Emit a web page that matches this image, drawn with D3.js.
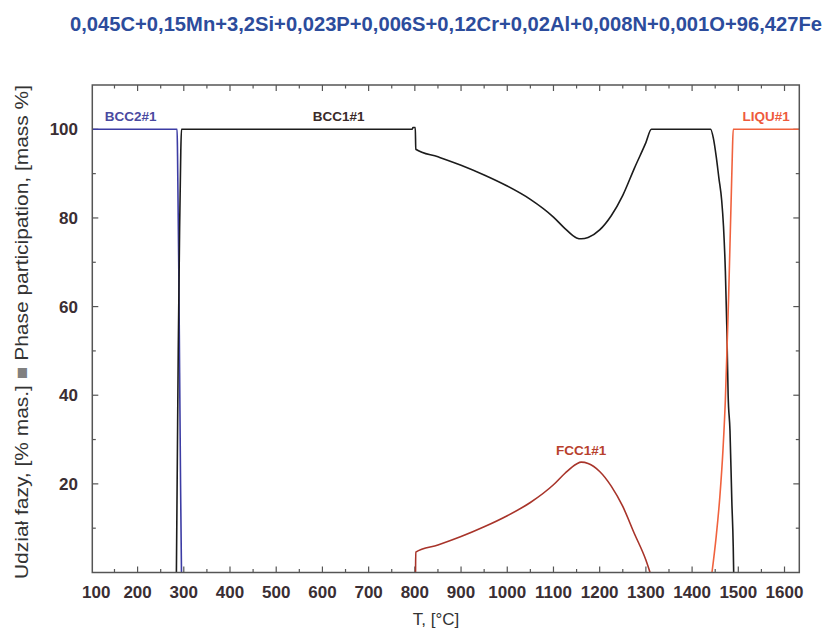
<!DOCTYPE html>
<html><head><meta charset="utf-8">
<script src="https://cdn.jsdelivr.net/npm/d3@7"></script>
<style>html,body{margin:0;padding:0;background:#fff;}svg{display:block;}</style>
</head><body>
<script>
// ---- data ----
const titleText = "0,045C+0,15Mn+3,2Si+0,023P+0,006S+0,12Cr+0,02Al+0,008N+0,001O+96,427Fe";
const xTickLabels = [100,200,300,400,500,600,700,800,900,1000,1100,1200,1300,1400,1500,1600];
const yTickLabels = [20,40,60,80,100];

const bcc2T = [102, 285.5, 286.5, 289, 291, 293, 295];
const bcc2V = [100, 100, 94, 70, 45, 20, 0];

const bcc1T = [284,286,288,291,293.5,295,794,796,801,802,850,900,950,1000,1050,1100,1125,1150,1160,1175,1200,1225,1250,1275,1300,1312,1440,1446,1452,1458,1464,1468,1472,1475,1478,1482,1486,1489,1490];
const bcc1V = [0,25,50,78,95,100,100,100.4,100.4,95.5,93.8,91.9,89.7,87.2,84.2,80.2,77.6,75.5,75.3,75.6,77.3,80.5,85.1,91.2,97,100,100,98,94,89,84,78,68,56,40,32,16,6,0];

const fccT = [801.5,802,850,900,950,1000,1050,1100,1125,1150,1160,1175,1200,1225,1250,1275,1300,1309];
const fccV = [0,4.6,6.2,8.1,10.3,12.8,15.8,19.8,22.4,24.5,24.9,24.6,22.8,19.5,14.9,8.8,2.8,0];

const liqT = [1443,1452,1460,1467,1472,1476,1479,1482,1485,1487,1489,1632];
const liqV = [0,8,17,28,39,52,62,74,86,94,100,100];

const phaseLabels = ["BCC2#1","BCC1#1","FCC1#1","LIQU#1"];

// ---- layout ----
const W = 822, H = 628;
const L = 92.3, R = 799.3, T = 85, B = 572.5;
const svg = d3.select("body").append("svg").attr("width", W).attr("height", H);
svg.append("rect").attr("width", W).attr("height", H).attr("fill", "#fff");

const x = d3.scaleLinear().domain([102, 1632]).range([L, R]);
const y = d3.scaleLinear().domain([0, 110]).range([B, T]);

svg.append("defs").append("clipPath").attr("id","clip")
  .append("rect").attr("x", L).attr("y", T).attr("width", R-L).attr("height", B-T);

// title
svg.append("text").attr("x", 70).attr("y", 31)
  .attr("font-family","'Liberation Sans', Arial, sans-serif").attr("font-weight","bold")
  .attr("font-size", 19.5).attr("fill","#2c4c9c")
  .attr("textLength", 752).attr("lengthAdjust","spacingAndGlyphs")
  .text(titleText);

// ticks (inward on all four sides)
const minorX = d3.range(150, 1650, 100), majorX = d3.range(200, 1700, 100);
const majorY = d3.range(20, 120, 20), minorY = d3.range(10, 120, 20);
const tg = svg.append("g").attr("stroke","#555").attr("stroke-width",1.2);
function xt(vals, len){
  vals.filter(v=>x(v)>L+1 && x(v)<R-1).forEach(v=>{
    tg.append("line").attr("x1",x(v)).attr("x2",x(v)).attr("y1",B).attr("y2",B-len);
    tg.append("line").attr("x1",x(v)).attr("x2",x(v)).attr("y1",T).attr("y2",T+len);
  });
}
function yt(vals, len){
  vals.filter(v=>y(v)>T+1 && y(v)<B-1).forEach(v=>{
    tg.append("line").attr("y1",y(v)).attr("y2",y(v)).attr("x1",L).attr("x2",L+len);
    tg.append("line").attr("y1",y(v)).attr("y2",y(v)).attr("x1",R).attr("x2",R-len);
  });
}
xt(majorX, 6); xt(minorX, 3.5); yt(majorY, 6); yt(minorY, 3.5);

// tick labels
const lblFont = "'Liberation Sans', Arial, sans-serif";
svg.append("g").selectAll("text").data(xTickLabels).join("text")
  .attr("x", d => Math.max(x(d), L + 4))
  .attr("y", 598).attr("text-anchor","middle")
  .attr("font-family", lblFont).attr("font-weight","bold").attr("font-size",17)
  .attr("fill","#3a2e33").text(d => d);
svg.append("g").selectAll("text").data(yTickLabels).join("text")
  .attr("x", 78).attr("y", d => y(d) + 6).attr("text-anchor","end")
  .attr("font-family", lblFont).attr("font-weight","bold").attr("font-size",17)
  .attr("fill","#3a2e33").text(d => d);

// axis titles
svg.append("text").attr("x", 436).attr("y", 625).attr("text-anchor","middle")
  .attr("font-family", lblFont).attr("font-size",17).attr("fill","#333").text("T, [°C]");
const yt_ = svg.append("text").attr("transform","translate(28,332) rotate(-90)")
  .attr("text-anchor","middle").attr("font-family", lblFont).attr("font-size",19)
  .attr("textLength", 494).attr("lengthAdjust","spacingAndGlyphs").attr("fill","#333");
yt_.append("tspan").text("Udział fazy, [% mas.] ");
yt_.append("tspan").attr("fill","#808080").text("■");
yt_.append("tspan").text(" Phase participation, [mass %]");

// curves
const line = d3.line().x(d => x(d[0])).y(d => y(d[1])).curve(d3.curveMonotoneX);
const plot = svg.append("g").attr("clip-path","url(#clip)");
function series(Ts, Vs, color){
  plot.append("path").datum(Ts.map((t,i)=>[t, Vs[i]]))
    .attr("d", line).attr("fill","none").attr("stroke", color)
    .attr("stroke-width", 1.6).attr("stroke-linejoin","round");
}
series(bcc2T, bcc2V, "#3c3ca4");
series(bcc1T, bcc1V, "#1c1c1c");
series(fccT, fccV, "#a8342a");
series(liqT, liqV, "#f0623e");

// frame
svg.append("rect").attr("x", L).attr("y", T).attr("width", R-L).attr("height", B-T)
  .attr("fill","none").attr("stroke","#555").attr("stroke-width",1.5);

// phase labels
const lab = [
  {t: phaseLabels[0], T: 185, v: 101.8, c: "#4a4aa0"},
  {t: phaseLabels[1], T: 635, v: 101.8, c: "#3a2a28"},
  {t: phaseLabels[2], T: 1160, v: 26.5, c: "#b8402c"},
  {t: phaseLabels[3], T: 1560, v: 101.8, c: "#ee5a3c"}
];
svg.append("g").selectAll("text").data(lab).join("text")
  .attr("x", d => x(d.T)).attr("y", d => y(d.v)).attr("text-anchor","middle")
  .attr("font-family", lblFont).attr("font-weight","bold").attr("font-size",13.5)
  .attr("fill", d => d.c).text(d => d.t);
</script>
</body></html>
